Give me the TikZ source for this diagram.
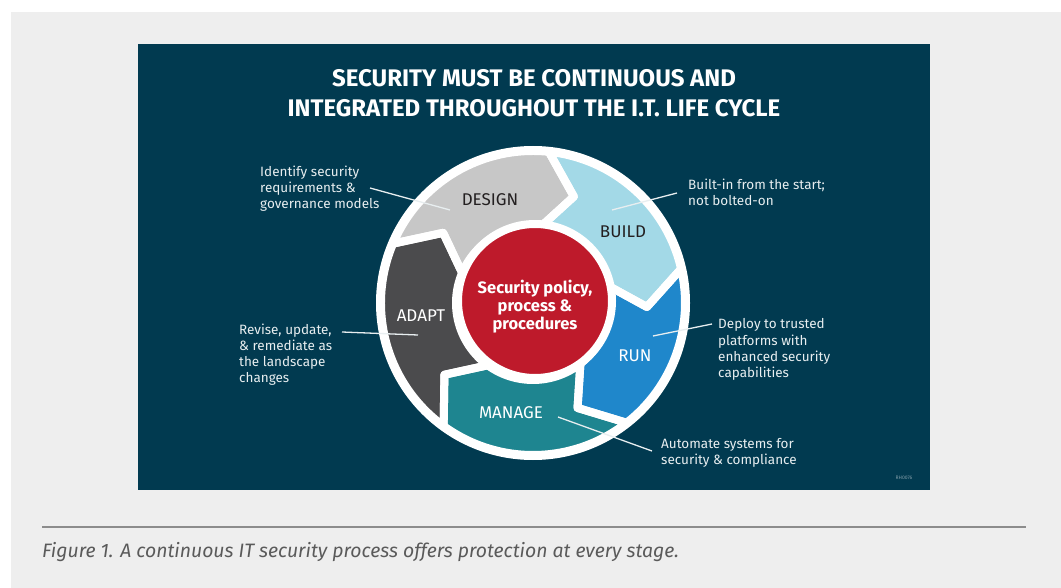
\documentclass[tikz,border=0pt]{standalone}
\usepackage{fontspec}
\setmainfont{Fira Sans}
\definecolor{pagegray}{HTML}{EEEEEE}
\definecolor{panel}{HTML}{013A50}
\definecolor{designc}{HTML}{C7C7C7}
\definecolor{buildc}{HTML}{A3D9E7}
\definecolor{runc}{HTML}{1F87CB}
\definecolor{managec}{HTML}{1E8590}
\definecolor{adaptc}{HTML}{4B4B4D}
\definecolor{corered}{HTML}{BE1A2B}
\definecolor{inkdark}{HTML}{231F20}
\definecolor{labeltext}{HTML}{E8EEF0}
\definecolor{captiontext}{HTML}{5A5A5A}
\definecolor{rulegray}{HTML}{8C8C8C}
\definecolor{codetext}{HTML}{7E9BA7}
\tikzset{
  % multi-line nodes: the base anchor sits on the last line's baseline
  sidelabel/.style={anchor=base west, inner sep=0pt, align=left, text=labeltext,
    font=\fontsize{13.5}{16}\selectfont},
  stagelabel/.style={inner sep=0pt, font=\fontsize{17}{19}\selectfont},
  leader/.style={draw=labeltext, line width=1.3pt},
}
\begin{document}
\begin{tikzpicture}[x=1pt,y=-1pt]
\useasboundingbox (0,0) rectangle (1061,588);
% page and panel
\fill[white] (0,0) rectangle (1061,588);
\fill[pagegray] (11,12) rectangle (1061,588);
\fill[panel] (138,44) rectangle (930,490);

% title
\node (title) [anchor=base, inner sep=0pt, align=center, text=white,
  font=\fontsize{24}{30}\selectfont\bfseries] at (534,117)
  {SECURITY MUST BE CONTINUOUS AND\\INTEGRATED THROUGHOUT THE I.T. LIFE CYCLE};

% the wheel of five stages
\begin{scope}[shift={(533,303)}]
  \fill[white] (0,0) circle[radius=157pt];
  \foreach \a/\b/\c in {157/84/designc, 84/13/buildc, 13/-52/runc, -52/-126/managec, 234/157/adaptc}
    \fill[\c] (\a:152pt) arc[start angle=\a, end angle=\b, radius=152pt]
      -- ({\b-15}:114pt) -- (\b:77pt) arc[start angle=\b, end angle=\a, radius=77pt]
      -- ({\a-15}:114pt) -- cycle;
  \foreach \a/\b in {157/84, 84/13, 13/-52, -52/-126, 234/157}
    \draw[white, line width=8pt, line join=round] (\a:152pt) arc[start angle=\a, end angle=\b, radius=152pt]
      -- ({\b-15}:114pt) -- (\b:77pt) arc[start angle=\b, end angle=\a, radius=77pt]
      -- ({\a-15}:114pt) -- cycle;
\end{scope}
\node (core) [circle, fill=corered, draw=white, line width=8pt, minimum size=154pt, inner sep=0pt] at (535,301) {};
\node (coretext) [inner sep=0pt, align=center, text=white, font=\fontsize{16.5}{18}\selectfont\bfseries]
  at (535,307) {Security policy,\\process \&\\procedures};

% stage names
\node (design) [stagelabel, text=inkdark] at (490,200) {DESIGN};
\node (build)  [stagelabel, text=inkdark] at (623,232) {BUILD};
\node (run)    [stagelabel, text=white]   at (635,356) {RUN};
\node (manage) [stagelabel, text=white]   at (511,413) {MANAGE};
\node (adapt)  [stagelabel, text=white]   at (421,316) {ADAPT};

% descriptions
\node (designnote) [sidelabel] at (260,209) {Identify security\\requirements \&\\governance models};
\node (buildnote)  [sidelabel] at (688,206) {Built-in from the start;\\not bolted-on};
\node (adaptnote)  [sidelabel] at (239,382) {Revise, update,\\\& remediate as\\the landscape\\changes};
\node (runnote)    [sidelabel] at (718,377) {Deploy to trusted\\platforms with\\enhanced security\\capabilities};
\node (managenote) [sidelabel] at (661,464) {Automate systems for\\security \& compliance};

% leader lines
\coordinate (designA) at (370,188); \coordinate (designB) at (450,210);
\coordinate (buildA)  at (677,193); \coordinate (buildB)  at (612,210);
\coordinate (adaptA)  at (342,332); \coordinate (adaptB)  at (418,335);
\coordinate (runA)    at (712,324); \coordinate (runB)    at (653,336);
\coordinate (manageA) at (652,451); \coordinate (manageB) at (558,417);
\draw[leader] (designA) -- (designB);
\draw[leader] (buildA) -- (buildB);
\draw[leader] (adaptA) -- (adaptB);
\draw[leader] (runA) -- (runB);
\draw[leader] (manageA) -- (manageB);

% artwork code
\node (artcode) [inner sep=0pt, text=codetext, font=\fontsize{5}{6}\selectfont] at (904,478) {RH0076};

% caption
\coordinate (ruleL) at (42,527); \coordinate (ruleR) at (1026,527);
\draw[rulegray, line width=2pt] (ruleL) -- (ruleR);
\node (caption) [anchor=base west, inner sep=0pt, text=captiontext, font=\fontsize{19.4}{22}\selectfont\itshape]
  at (42,557) {Figure 1. A continuous IT security process offers protection at every stage.};
\end{tikzpicture}
\end{document}
